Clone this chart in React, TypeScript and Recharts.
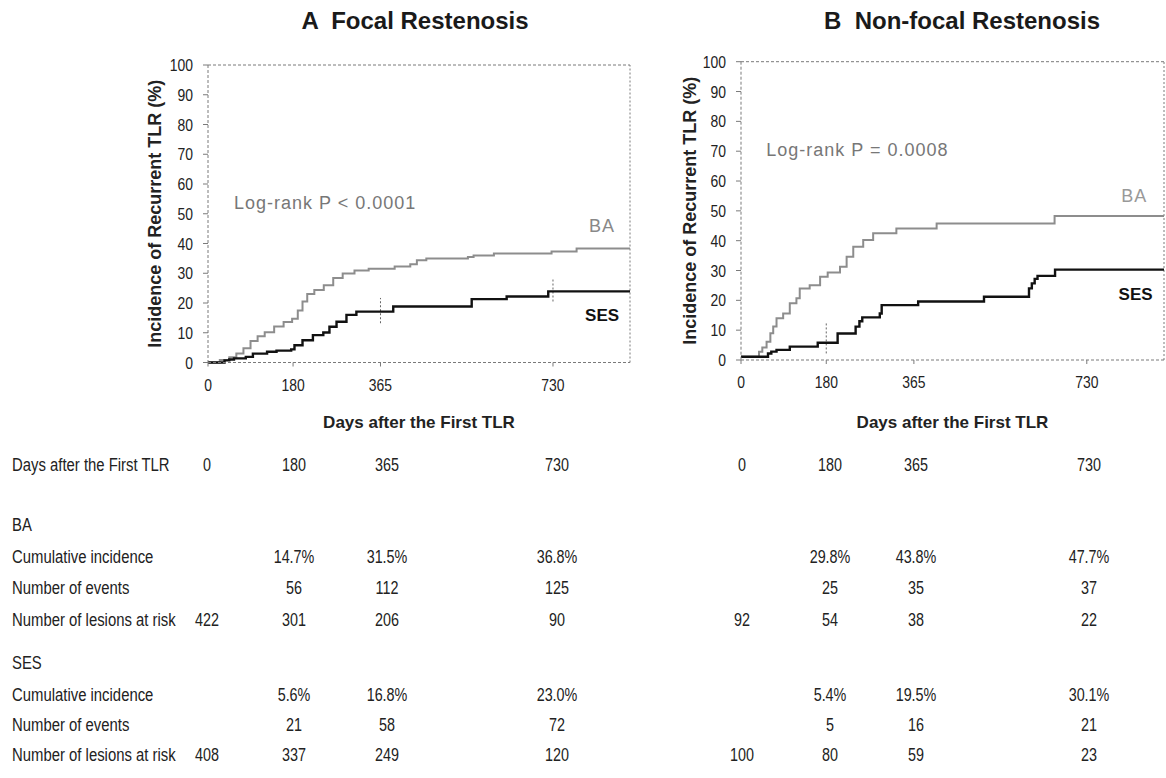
import React from 'react';
import { LineChart, Line, XAxis, YAxis, ReferenceLine, ReferenceDot, Label } from 'recharts';

const dayTicks = [0, 180, 365, 730];
const pctTicks = [0, 10, 20, 30, 40, 50, 60, 70, 80, 90, 100];
const maxDay = 893;

// A: focal restenosis, step points (day, cumulative %)
const focalBaDays = [0, 25, 45, 60, 75, 90, 105, 120, 140, 160, 178, 190, 200, 210, 225, 245, 265, 285, 310, 340, 395, 428, 442, 462, 550, 562, 605, 727, 780, 893];
const focalBaPct = [0, 0.8, 1.8, 3.0, 4.8, 7.2, 8.8, 10.2, 12.1, 13.6, 14.7, 17.5, 20.5, 23.0, 24.4, 26.0, 28.4, 29.9, 30.9, 31.5, 32.3, 33.0, 34.4, 35.0, 35.5, 36.0, 36.6, 37.3, 38.3, 38.3];
const focalSesDays = [0, 35, 45, 55, 80, 95, 125, 145, 176, 183, 200, 222, 244, 257, 272, 293, 314, 392, 558, 632, 720, 893];
const focalSesPct = [0, 0.7, 1.0, 1.4, 1.9, 3.0, 3.6, 4.0, 4.4, 5.8, 7.5, 9.2, 10.1, 12.0, 13.7, 16.0, 17.1, 18.8, 21.3, 22.2, 23.9, 23.9];
// dotted interval marks on the SES curve
const focalBarDays = [365, 730];
const focalBarLow = [13.2, 20.5];
const focalBarHigh = [21.7, 28.3];

// B: non-focal restenosis
const nonFocalBaDays = [0, 38, 45, 54, 62, 68, 75, 89, 103, 117, 124, 145, 167, 183, 209, 223, 237, 258, 279, 328, 413, 662, 893];
const nonFocalBaPct = [1.1, 2.8, 4.2, 6.1, 9.0, 11.2, 14.0, 15.6, 19.0, 20.7, 24.0, 25.1, 27.9, 29.3, 31.3, 34.6, 38.0, 40.2, 42.5, 44.1, 45.8, 48.3, 48.3];
const nonFocalSesDays = [0, 57, 64, 75, 103, 162, 204, 242, 250, 256, 293, 297, 374, 513, 608, 614, 620, 626, 663, 893];
const nonFocalSesPct = [1.1, 2.2, 2.8, 3.4, 4.5, 5.8, 8.9, 11.2, 13.0, 14.3, 15.6, 18.4, 19.6, 21.2, 24.0, 25.7, 27.2, 28.2, 30.3, 30.3];
const nonFocalBarDays = [180];
const nonFocalBarLow = [2.2];
const nonFocalBarHigh = [12.3];

// table under the curves
const tableDays = ['0', '180', '365', '730'];
const focalBaIncidence = ['', '14.7%', '31.5%', '36.8%'];
const focalBaEvents = ['', '56', '112', '125'];
const focalBaRisk = ['422', '301', '206', '90'];
const focalSesIncidence = ['', '5.6%', '16.8%', '23.0%'];
const focalSesEvents = ['', '21', '58', '72'];
const focalSesRisk = ['408', '337', '249', '120'];
const nonFocalBaIncidence = ['', '29.8%', '43.8%', '47.7%'];
const nonFocalBaEvents = ['', '25', '35', '37'];
const nonFocalBaRisk = ['92', '54', '38', '22'];
const nonFocalSesIncidence = ['', '5.4%', '19.5%', '30.1%'];
const nonFocalSesEvents = ['', '5', '16', '21'];
const nonFocalSesRisk = ['100', '80', '59', '23'];

const SANS = '"Liberation Sans", Arial, sans-serif';
const AXIS = '#7a7a7a';
const SQUEEZE = 0.82; // condensed look for ticks and table

const zip = (days: number[], pct: number[]) => days.map((d, i) => ({ day: d, pct: pct[i] }));

// tick text drawn narrow, like the condensed face in the print
const narrowTick = (anchor: 'middle' | 'end') => (props: any) => {
  const { x, y, payload } = props;
  return (
    <text
      transform={`translate(${x},${y}) scale(${SQUEEZE},1)`}
      textAnchor={anchor}
      dy={anchor === 'middle' ? '0.71em' : '0.36em'}
      fontFamily={SANS}
      fontSize={17}
      fill="#222"
    >
      {payload.value}
    </text>
  );
};

type Note = { x: number; y: number; text: string; pos: 'right' | 'center'; color: string; bold?: boolean };

interface PanelProps {
  ba: { day: number; pct: number }[];
  ses: { day: number; pct: number }[];
  bars: { days: number[]; low: number[]; high: number[] };
  notes: Note[];
  left: number;
  top: number;
  width: number;
  margin: { top: number; right: number; left: number; bottom: number };
  yLabelOffset: number;
  xLabelOffset: number;
}

function KmPanel({ ba, ses, bars, notes, left, top, width, margin, yLabelOffset, xLabelOffset }: PanelProps) {
  return (
    <div style={{ position: 'absolute', left, top }}>
      <LineChart width={width} height={420} margin={margin}>
        <XAxis
          type="number"
          dataKey="day"
          domain={[0, maxDay]}
          ticks={dayTicks}
          interval={0}
          allowDataOverflow
          height={70}
          tickSize={4}
          tickMargin={12}
          axisLine={{ stroke: AXIS, strokeDasharray: '3 2' }}
          tickLine={{ stroke: AXIS }}
          tick={narrowTick('middle')}
        >
          <Label
            value="Days after the First TLR"
            position="insideBottom"
            offset={xLabelOffset}
            style={{ fontFamily: SANS, fontWeight: 700, fontSize: 17, fill: '#222' }}
          />
        </XAxis>
        <YAxis
          type="number"
          domain={[0, 100]}
          ticks={pctTicks}
          interval={0}
          width={88}
          tickSize={5}
          tickMargin={10}
          axisLine={{ stroke: AXIS, strokeDasharray: '3 2' }}
          tickLine={{ stroke: AXIS }}
          tick={narrowTick('end')}
        >
          <Label
            value="Incidence of Recurrent TLR (%)"
            angle={-90}
            position="insideLeft"
            offset={yLabelOffset}
            style={{ textAnchor: 'middle', fontFamily: SANS, fontWeight: 700, fontSize: 18, fill: '#222' }}
          />
        </YAxis>
        <ReferenceLine y={100} stroke={AXIS} strokeDasharray="3 2" />
        <ReferenceLine x={maxDay} stroke={AXIS} strokeDasharray="2 2" />
        {bars.days.map((d, i) => (
          <ReferenceLine
            key={d}
            segment={[{ x: d, y: bars.low[i] }, { x: d, y: bars.high[i] }]}
            stroke="#666"
            strokeDasharray="2 2"
          />
        ))}
        <Line data={ba} dataKey="pct" type="stepAfter" stroke="#8d8d8d" strokeWidth={2} dot={false} isAnimationActive={false} />
        <Line data={ses} dataKey="pct" type="stepAfter" stroke="#111" strokeWidth={2.4} dot={false} isAnimationActive={false} />
        {notes.map((n) => (
          <ReferenceDot
            key={n.text}
            x={n.x}
            y={n.y}
            r={1}
            fill="none"
            stroke="none"
            label={{
              value: n.text,
              position: n.pos,
              offset: 0,
              style: {
                fontFamily: SANS,
                fontSize: n.bold ? 17 : 18,
                fontWeight: n.bold ? 700 : 400,
                letterSpacing: n.bold ? 0 : 1,
                fill: n.color,
              },
            }}
          />
        ))}
      </LineChart>
    </div>
  );
}

const focalNotes: Note[] = [
  { x: 53, y: 53.6, text: 'Log-rank P < 0.0001', pos: 'right', color: '#777' },
  { x: 834, y: 45.9, text: 'BA', pos: 'center', color: '#888' },
  { x: 834, y: 16, text: 'SES', pos: 'center', color: '#111', bold: true },
];
const nonFocalNotes: Note[] = [
  { x: 51, y: 70.4, text: 'Log-rank P = 0.0008', pos: 'right', color: '#777' },
  { x: 830, y: 55, text: 'BA', pos: 'center', color: '#999' },
  { x: 833, y: 22.1, text: 'SES', pos: 'center', color: '#111', bold: true },
];

const rowLabels = [
  'Days after the First TLR',
  'BA',
  'Cumulative incidence',
  'Number of events',
  'Number of lesions at risk',
  'SES',
  'Cumulative incidence',
  'Number of events',
  'Number of lesions at risk',
];
const rowY = [465, 525, 557, 588, 620, 663, 695, 725, 755];
const focalCols = [207, 294, 387, 557];
const nonFocalCols = [742, 830, 916, 1089];

const cellFont = { fontFamily: SANS, fontSize: 17.5, color: '#222', whiteSpace: 'nowrap' as const };

function TableCells({ cols, rows }: { cols: number[]; rows: (string[] | null)[] }) {
  return (
    <>
      {rows.map((r, ri) =>
        r
          ? r.map((v, ci) => (
              <div
                key={`${ri}-${ci}`}
                style={{
                  ...cellFont,
                  position: 'absolute',
                  left: cols[ci],
                  top: rowY[ri],
                  transform: `translate(-50%, -50%) scaleX(${SQUEEZE})`,
                }}
              >
                {v}
              </div>
            ))
          : null,
      )}
    </>
  );
}

export default function App() {
  return (
    <div style={{ position: 'absolute', left: 0, top: 0, width: 1166, height: 778, background: '#fff', overflow: 'hidden' }}>
      <div style={{ position: 'absolute', left: 415, top: 21, transform: 'translate(-50%, -50%)', fontFamily: SANS, fontWeight: 700, fontSize: 24, whiteSpace: 'pre', color: '#1a1a1a' }}>
        A  Focal Restenosis
      </div>
      <div style={{ position: 'absolute', left: 962, top: 21, transform: 'translate(-50%, -50%)', fontFamily: SANS, fontWeight: 700, fontSize: 24, whiteSpace: 'pre', color: '#1a1a1a' }}>
        B  Non-focal Restenosis
      </div>

      <KmPanel
        ba={zip(focalBaDays, focalBaPct)}
        ses={zip(focalSesDays, focalSesPct)}
        bars={{ days: focalBarDays, low: focalBarLow, high: focalBarHigh }}
        notes={focalNotes}
        left={120}
        top={40}
        width={530}
        margin={{ top: 25, right: 20, left: 0, bottom: 27.5 }}
        yLabelOffset={35}
        xLabelOffset={5}
      />
      <KmPanel
        ba={zip(nonFocalBaDays, nonFocalBaPct)}
        ses={zip(nonFocalSesDays, nonFocalSesPct)}
        bars={{ days: nonFocalBarDays, low: nonFocalBarLow, high: nonFocalBarHigh }}
        notes={nonFocalNotes}
        left={653}
        top={40}
        width={513}
        margin={{ top: 21.7, right: 2, left: 0, bottom: 30 }}
        yLabelOffset={37}
        xLabelOffset={2}
      />

      {rowLabels.map((t, i) => (
        <div
          key={i}
          style={{
            ...cellFont,
            position: 'absolute',
            left: 12,
            top: rowY[i],
            transformOrigin: '0 50%',
            transform: `translateY(-50%) scaleX(${SQUEEZE + 0.03})`,
          }}
        >
          {t}
        </div>
      ))}
      <TableCells
        cols={focalCols}
        rows={[tableDays, null, focalBaIncidence, focalBaEvents, focalBaRisk, null, focalSesIncidence, focalSesEvents, focalSesRisk]}
      />
      <TableCells
        cols={nonFocalCols}
        rows={[tableDays, null, nonFocalBaIncidence, nonFocalBaEvents, nonFocalBaRisk, null, nonFocalSesIncidence, nonFocalSesEvents, nonFocalSesRisk]}
      />
    </div>
  );
}
